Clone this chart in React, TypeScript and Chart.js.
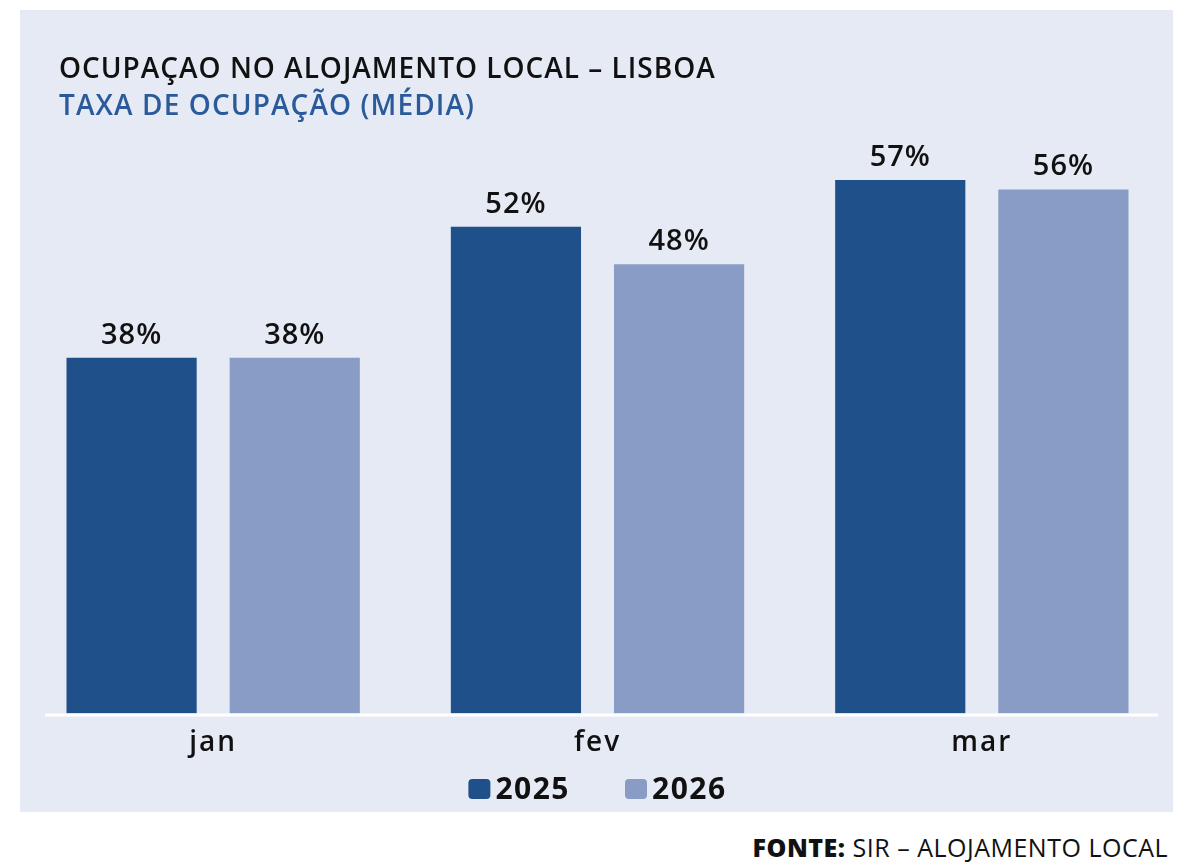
import React, { useEffect, useRef } from "react";
import { Chart, registerables } from "chart.js";

Chart.register(...registerables);

const categories = ["jan", "fev", "mar"];
const series2025 = [38, 52, 57];
const series2026 = [38, 48, 56];
const seriesNames = ["2025", "2026"];

const FONT = "'Open Sans', 'Noto Sans', sans-serif";
const DARK = "#20508a";
const LIGHT = "#899cc5";
const BG = "#e6eaf5";

const valueLabels = {
  id: "valueLabels",
  afterDatasetsDraw(chart: any) {
    const ctx = chart.ctx;
    ctx.save();
    ctx.font = `600 29px ${FONT}`;
    (ctx as any).letterSpacing = "1px";
    ctx.fillStyle = "#111111";
    ctx.textAlign = "center";
    ctx.textBaseline = "bottom";
    chart.data.datasets.forEach((ds: any, i: number) => {
      const meta = chart.getDatasetMeta(i);
      meta.data.forEach((bar: any, j: number) => {
        ctx.fillText(`${ds.data[j]}%`, bar.x, bar.y - 8);
      });
    });
    ctx.restore();
  },
};

const baseLine = {
  id: "baseLine",
  afterDatasetsDraw(chart: any) {
    const { ctx, chartArea } = chart;
    ctx.save();
    ctx.strokeStyle = "#ffffff";
    ctx.lineWidth = 3;
    ctx.beginPath();
    ctx.moveTo(24, chartArea.bottom + 1.5);
    ctx.lineTo(1137, chartArea.bottom + 1.5);
    ctx.stroke();
    ctx.restore();
  },
};

const spacedTicks = {
  id: "spacedTicks",
  beforeDraw(chart: any) {
    (chart.ctx as any).letterSpacing = "2px";
  },
  afterDraw(chart: any) {
    (chart.ctx as any).letterSpacing = "0px";
  },
};

const customLegend = {
  id: "customLegend",
  afterDraw(chart: any) {
    const ctx = chart.ctx;
    ctx.save();
    ctx.font = `700 30px ${FONT}`;
    (ctx as any).letterSpacing = "1.5px";
    const box = 22;
    const gap = 5;
    const itemGap = 55;
    const items = chart.data.datasets.map((ds: any) => ({
      text: ds.label,
      color: ds.backgroundColor,
      w: ctx.measureText(ds.label).width,
    }));
    const total =
      items.reduce((s: number, it: any) => s + box + gap + it.w, 0) +
      itemGap * (items.length - 1);
    const cx = (chart.chartArea.left + chart.chartArea.right) / 2;
    let x = cx - total / 2;
    const cy = 779;
    items.forEach((it: any) => {
      ctx.fillStyle = it.color;
      ctx.beginPath();
      (ctx as any).roundRect(x, cy - 10, box, 20, 4);
      ctx.fill();
      ctx.fillStyle = "#111111";
      ctx.textAlign = "left";
      ctx.textBaseline = "middle";
      ctx.fillText(it.text, x + box + gap, cy + 1);
      x += box + gap + it.w + itemGap;
    });
    ctx.restore();
  },
};

export default function App() {
  const ref = useRef<HTMLCanvasElement | null>(null);

  useEffect(() => {
    if (!ref.current) return;
    const chart = new Chart(ref.current, {
      type: "bar",
      data: {
        labels: categories,
        datasets: [
          {
            label: seriesNames[0],
            data: series2025,
            backgroundColor: DARK,
            categoryPercentage: 0.849,
            barPercentage: 0.798,
          },
          {
            label: seriesNames[1],
            data: series2026,
            backgroundColor: LIGHT,
            categoryPercentage: 0.849,
            barPercentage: 0.798,
          },
        ],
      },
      options: {
        animation: false,
        responsive: false,
        maintainAspectRatio: false,
        layout: { padding: { top: 142, left: 0, right: 0, bottom: 39 } },
        scales: {
          x: {
            grid: { display: false, drawTicks: false },
            border: { display: false },
            ticks: {
              color: "#111111",
              padding: 13,
              font: { family: FONT, size: 28, weight: 600 },
            },
          },
          y: {
            display: false,
            min: 0,
            max: 60,
          },
        },
        plugins: {
          legend: { display: false },
          tooltip: { enabled: false },
        },
      },
      plugins: [spacedTicks, valueLabels, baseLine, customLegend],
    });
    return () => chart.destroy();
  }, []);

  return (
    <div
      style={{
        position: "absolute",
        left: 0,
        top: 0,
        width: 1192,
        height: 868,
        background: "#ffffff",
        overflow: "hidden",
        fontFamily: FONT,
      }}
    >
      <div
        style={{
          position: "absolute",
          left: 20,
          top: 10,
          width: 1153,
          height: 802,
          background: BG,
        }}
      />
      <canvas
        ref={ref}
        width={1153}
        height={802}
        style={{ position: "absolute", left: 21, top: 10, width: 1153, height: 802 }}
      />
      <div
        style={{
          position: "absolute",
          left: 59,
          top: 50,
          fontSize: 28,
          fontWeight: 600,
          letterSpacing: "1px",
          color: "#111111",
          whiteSpace: "nowrap",
          lineHeight: "34px",
        }}
      >
        OCUPAÇAO NO ALOJAMENTO LOCAL – LISBOA
      </div>
      <div
        style={{
          position: "absolute",
          left: 59,
          top: 87,
          fontSize: 28,
          fontWeight: 600,
          letterSpacing: "1.1px",
          color: "#2b5a9b",
          whiteSpace: "nowrap",
          lineHeight: "34px",
        }}
      >
        TAXA DE OCUPAÇÃO (MÉDIA)
      </div>
      <div
        style={{
          position: "absolute",
          right: 24,
          top: 830,
          fontSize: 25,
          letterSpacing: "0.5px",
          color: "#111111",
          whiteSpace: "nowrap",
          lineHeight: "34px",
        }}
      >
        <span style={{ fontWeight: 800 }}>FONTE:</span> SIR – ALOJAMENTO LOCAL
      </div>
    </div>
  );
}
